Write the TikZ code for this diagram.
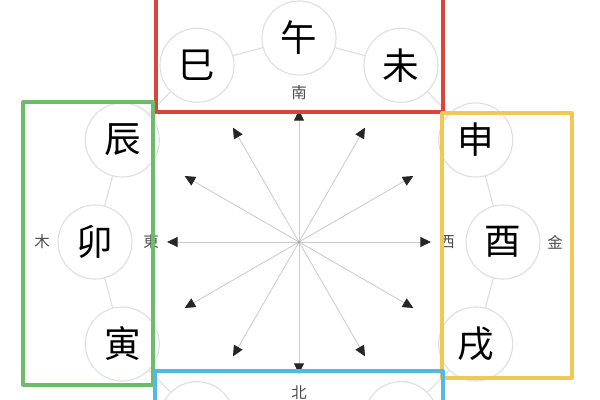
\documentclass[tikz,border=0pt]{standalone}
\usepackage{fontspec}
\newfontfamily\cjk{Noto Sans CJK SC}
\usetikzlibrary{arrows.meta}
\definecolor{hongse}{RGB}{216,68,62}
\definecolor{lvse}{RGB}{108,188,108}
\definecolor{huangse}{RGB}{240,200,84}
\definecolor{lanse}{RGB}{84,184,228}
\tikzset{
	zhi/.style={circle,draw=gray!25,fill=white,line width=0.8pt,minimum size=1.85cm,inner sep=0pt,font=\cjk\fontsize{26}{26}\selectfont},
	fangwei/.style={text=black!70,inner sep=0pt,font=\cjk\fontsize{11}{11}\selectfont},
	kuang/.style={line width=2.2pt}
}
\begin{document}
\begin{tikzpicture}[x=0.025cm,y=0.025cm,>={Triangle[length=7.5pt,width=7pt,color=black!85]},line join=round,line cap=round,declare function={R=204;L=132;}]
			\clip (-299,-158) rectangle (301,242);
			\fill[white] (-299,-158) rectangle (301,242);
			\coordinate (o) at (0,0);
			\foreach \i in {0,1,...,11}{
				\coordinate (t\i) at ({30*\i}:L);
				\draw[->,gray!40,line width=0.6pt] (o) -- (t\i);
			}
			\fill[gray!70] (o) circle (1.6);
			\foreach \z [count=\i from 0] in {酉,申,未,午,巳,辰,卯,寅,{},{},{},戌}{
				\node[zhi] (z\i) at ({30*\i}:R) {\z};
			}
			\foreach \i in {0,1,...,11}{
				\pgfmathtruncatemacro{\j}{mod(\i+1,12)}
				\draw[gray!25,line width=0.8pt] (z\i) -- (z\j);
			}
			\node[fangwei] (nan) at (0,149) {南};
			\node[fangwei] (bei) at (0,-151) {北};
			\node[fangwei] (dong) at (-148,0) {東};
			\node[fangwei] (xi) at (148,0) {西};
			\node[fangwei] (mu) at (-257,0) {木};
			\node[fangwei] (jin) at (256,0) {金};
			\draw[kuang,hongse] (-143,130) rectangle (144,250);
			\draw[kuang,lvse] (-276,-143) rectangle (-146,140);
			\draw[kuang,huangse] (143,-136) rectangle (273,129);
			\draw[kuang,lanse] (-144,-170) rectangle (144,-129);
		\end{tikzpicture}
\end{document}
